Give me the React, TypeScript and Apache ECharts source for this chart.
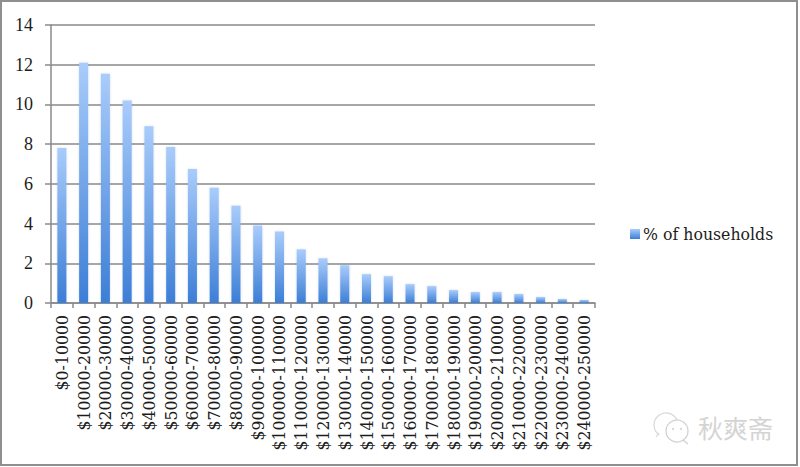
import React, { useEffect, useRef } from "react";
import * as echarts from "echarts";

const categories = [
  "$0-10000", "$10000-20000", "$20000-30000", "$30000-40000", "$40000-50000",
  "$50000-60000", "$60000-70000", "$70000-80000", "$80000-90000", "$90000-100000",
  "$100000-110000", "$110000-120000", "$120000-130000", "$130000-140000", "$140000-150000",
  "$150000-160000", "$160000-170000", "$170000-180000", "$180000-190000", "$190000-200000",
  "$200000-210000", "$210000-220000", "$220000-230000", "$230000-240000", "$240000-250000",
];
const households = [
  7.8, 12.1, 11.55, 10.2, 8.9, 7.85, 6.75, 5.8, 4.9, 3.9, 3.6, 2.7, 2.25, 1.9, 1.45,
  1.35, 0.95, 0.85, 0.65, 0.55, 0.55, 0.45, 0.3, 0.2, 0.15,
];
const seriesName = "% of households";
const watermark = "秋爽斋";
const FONT = "'DejaVu Serif Condensed', 'DejaVu Serif', serif";
const AXIS = "#8a8a8a";
const INK = "#1c1c1c";

export default function App() {
  const ref = useRef<HTMLDivElement>(null);
  useEffect(() => {
    const chart = echarts.init(ref.current!, undefined, { renderer: "svg" });
    chart.setOption({
      animation: false,
      backgroundColor: "#ffffff",
      grid: { left: 51, top: 25, width: 544, height: 278, containLabel: false },
      xAxis: {
        type: "category",
        data: categories,
        axisLine: { lineStyle: { color: AXIS, width: 1.5 } },
        axisTick: { show: true, alignWithLabel: false, length: 5, lineStyle: { color: AXIS, width: 1.5 } },
        axisLabel: { interval: 0, rotate: 90, fontFamily: FONT, fontSize: 17.5, color: INK, margin: 12 },
      },
      yAxis: {
        type: "value",
        min: 0,
        max: 14,
        interval: 2,
        axisLine: { show: true, lineStyle: { color: AXIS, width: 1.5 } },
        axisTick: { show: true, length: 6, lineStyle: { color: AXIS, width: 1.5 } },
        splitLine: { lineStyle: { color: AXIS, width: 1.5 } },
        axisLabel: { fontFamily: "'Liberation Serif', serif", fontSize: 18, color: INK, margin: 18, padding: [3, 0, 0, 0] },
      },
      legend: {
        show: true,
        left: 625,
        top: 220,
        itemWidth: 10,
        itemHeight: 10,
        itemGap: 0,
        data: [{ name: seriesName, icon: "rect" }],
        textStyle: { fontFamily: FONT, fontSize: 17.5, color: INK, padding: [8, 0, 0, -2] },
      },
      series: [
        {
          name: seriesName,
          type: "bar",
          data: households,
          barWidth: 9,
          itemStyle: {
            color: new echarts.graphic.LinearGradient(0, 0, 0, 1, [
              { offset: 0, color: "#a9ccfb" },
              { offset: 1, color: "#3c7ed6" },
            ]),
            shadowColor: "rgba(60,110,190,0.25)",
            shadowBlur: 2,
          },
        },
      ],
      graphic: [
        {
          type: "rect",
          shape: { x: 1, y: 1, width: 796, height: 464 },
          style: { fill: "none", stroke: "#8f8f8f", lineWidth: 2 },
          silent: true,
        },
        {
          type: "group",
          silent: true,
          children: [
            { type: "arc", shape: { cx: 666, cy: 425, r: 12, startAngle: 2.2, endAngle: 5.9 },
              style: { fill: "none", stroke: "#d8d8d8", lineWidth: 1.2 } },
            { type: "arc", shape: { cx: 677, cy: 431, r: 11, startAngle: 0, endAngle: 6.28 },
              style: { fill: "#ffffff", stroke: "#cfcfcf", lineWidth: 1.2 } },
            { type: "line", shape: { x1: 683, y1: 440, x2: 688, y2: 444 }, style: { stroke: "#cfcfcf", lineWidth: 1.2 } },
            { type: "line", shape: { x1: 659, y1: 433, x2: 656, y2: 437 }, style: { stroke: "#d8d8d8", lineWidth: 1.2 } },
            { type: "circle", shape: { cx: 673, cy: 429, r: 1 }, style: { fill: "#d0d0d0" } },
            { type: "circle", shape: { cx: 681, cy: 429, r: 1 }, style: { fill: "#d0d0d0" } },
          ],
        },
        {
          type: "text",
          x: 698,
          y: 414,
          silent: true,
          style: {
            text: watermark,
            fontFamily: "'Noto Sans CJK SC', sans-serif",
            fontSize: 25,
            fill: "#d4d4d4",
          },
        },
      ],
    });
    return () => chart.dispose();
  }, []);
  return <div ref={ref} style={{ position: "absolute", left: 0, top: 0, width: 800, height: 467 }} />;
}
